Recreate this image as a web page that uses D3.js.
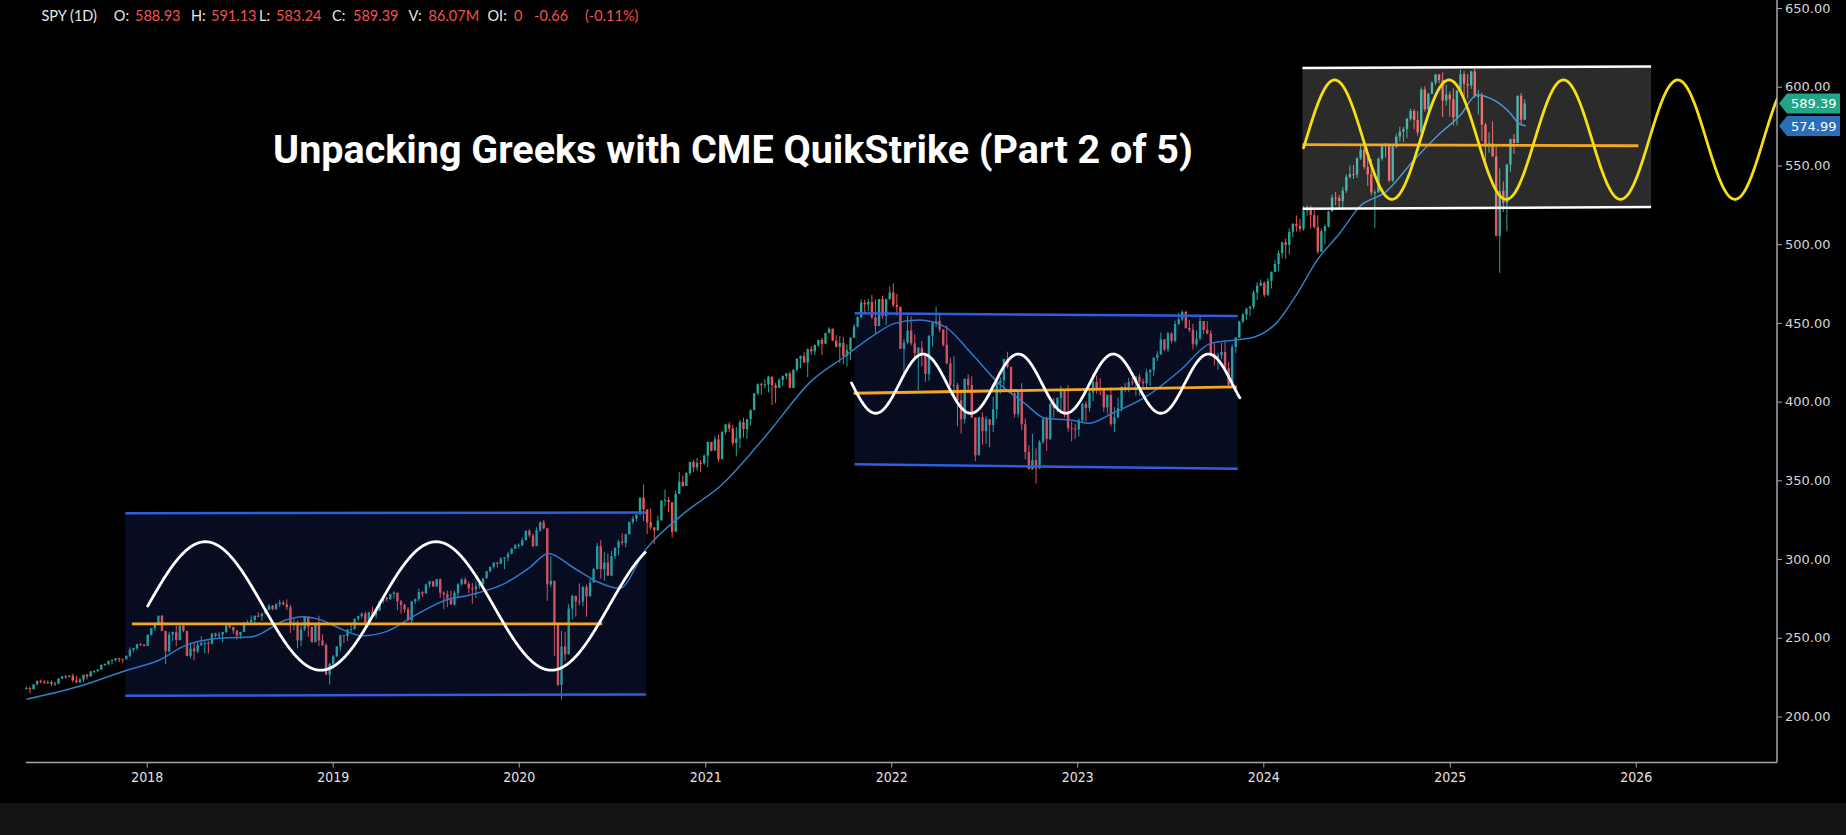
<!DOCTYPE html>
<html>
<head>
<meta charset="utf-8">
<script src="https://cdn.jsdelivr.net/npm/d3@7"></script>
<style>
html, body { margin: 0; padding: 0; background: #000; }
svg { display: block; }
</style>
</head>
<body>
<svg id="chart" width="1846" height="835"></svg>
<script>
// SPY weekly candles, [close, high, low]; open = previous close
var firstOpen = 217.7;
var yearStarts = ["2017-05-12","2018-01-05","2019-01-04","2020-01-03","2021-01-08","2022-01-07","2023-01-06","2024-01-05","2025-01-03"];

var spy2017 = [
[218.0,219.1,217.4],[217.3,219.1,214.7],[220.4,220.6,217.9],[222.6,222.9,219.7],[222.0,223.5,221.1],
[221.3,223.2,220.7],[221.8,223.0,220.7],[220.6,223.0,219.2],[220.9,222.1,219.5],[224.1,224.4,220.6],
[225.5,225.8,223.8],[225.4,226.4,224.0],[225.9,226.3,224.8],[222.9,227.3,221.8],[221.7,225.9,221.2],
[223.5,224.4,221.4],[226.5,226.6,221.9],[225.4,227.0,223.6],[228.7,228.9,226.7],[228.9,229.3,227.6],
[229.8,229.9,228.1],[232.8,233.1,230.2],[233.3,233.7,232.1],[235.3,235.4,232.7],[235.9,236.2,233.4],
[236.9,237.1,235.0],[236.4,237.4,234.5],[236.3,236.8,234.0],[238.6,238.7,236.6],[242.4,243.9,237.7],
[243.4,243.7,240.9],[245.9,246.3,242.2],[245.4,246.8,244.9],[244.9,246.1,244.6]
];
var spy2018 = [
[251.8,252.4,247.0],[256.1,256.3,251.4],[258.2,258.8,254.4],[264.0,264.0,258.2],
[254.3,264.4,254.1],[241.4,254.5,233.4],[252.0,253.8,240.7],[253.6,253.8,247.9],
[248.6,257.8,244.7],[257.7,257.8,248.2],[254.4,259.0,253.4],[238.5,254.4,238.2],[243.2,247.0,237.0],
[241.4,247.0,235.6],[245.3,247.2,240.1],[246.6,251.0,244.7],[246.6,248.5,240.1],
[246.3,248.1,239.9],[252.7,252.8,245.7],[251.2,253.2,250.2],[252.0,253.9,250.1],
[253.6,253.9,247.3],[257.9,258.6,253.0],[256.9,259.1,255.8],[254.6,256.1,252.5],[251.5,254.4,248.9],
[253.7,253.8,249.5],[259.7,260.0,255.7],[259.8,261.2,258.7],[261.4,264.2,259.8],
[264.0,264.1,258.8],[263.7,266.3,263.2],[265.4,265.9,260.7],[267.7,267.9,265.2],[270.3,271.6,267.7],
[268.3,270.8,267.5],[271.4,271.8,267.5],[272.4,274.2,269.5],[271.2,273.6,270.5],
[269.4,274.4,267.7],[258.3,270.9,253.1],[258.6,263.1,254.8],[248.3,261.1,243.3],
[255.3,258.4,244.8],[263.4,264.0,254.2],[257.0,260.3,250.6],[247.2,257.0,247.1],[258.8,259.2,247.9],
[248.3,264.1,244.6],[245.4,252.3,244.8],[226.7,246.4,226.2],[233.4,233.9,220.2]
];
var spy2019 = [
[238.3,239.0,230.3],[244.5,244.7,237.6],[251.6,252.0,241.7],[251.1,251.8,246.6],
[255.2,255.7,247.9],[255.6,258.4,253.4],[262.1,262.1,255.2],[263.7,263.8,260.8],
[265.3,266.1,262.4],[259.7,266.7,257.7],[266.1,266.7,259.7],[264.2,269.8,264.0],[267.2,267.2,262.3],
[273.3,273.3,268.5],[275.3,275.4,271.8],[274.6,276.0,272.9],[277.8,277.9,274.0],
[278.7,279.6,274.9],[273.1,277.3,267.6],[270.9,274.0,265.3],[268.1,271.6,266.0],[261.0,269.4,261.0],
[273.0,273.6,259.5],[274.5,274.9,271.5],[279.0,281.2,273.2],[278.1,279.6,275.9],
[283.9,284.3,280.7],[285.9,286.0,281.8],[282.6,286.3,282.2],[287.2,287.4,282.6],
[278.6,287.7,275.4],[277.6,279.5,268.2],[275.0,280.0,269.5],[271.2,279.7,271.1],[278.4,279.9,270.4],
[284.0,284.8,275.7],[287.0,287.8,283.3],[284.3,288.4,283.8],[281.5,285.7,278.3],
[280.8,284.8,271.7],[282.7,285.8,275.2],[284.3,286.2,281.2],[287.7,288.1,283.2],
[292.3,292.4,288.1],[295.1,295.1,291.5],[297.8,297.8,293.9],[297.0,298.2,294.6],[300.2,301.3,297.2],
[301.0,301.4,293.6],[303.3,304.7,298.6],[306.6,306.8,303.2],[308.7,309.6,306.3]
];
var spy2020 = [
[308.9,310.0,306.7],[312.0,313.7,308.0],[318.0,318.2,311.8],[315.0,318.9,313.7],[308.2,316.1,307.4],
[318.2,320.2,308.9],[323.4,323.9,317.3],[319.5,324.9,319.0],[283.9,319.6,273.5],
[286.2,301.9,282.0],[259.1,277.5,238.3],[220.1,247.8,219.3],[244.5,254.4,210.7],
[239.5,253.8,235.4],[268.5,271.4,249.9],[276.6,277.3,261.7],[273.1,276.8,263.4],
[272.9,284.6,270.6],[282.2,282.9,270.0],[276.3,283.7,263.4],[285.1,287.3,280.8],[293.6,294.3,286.3],
[308.1,310.1,293.6],[293.6,312.1,287.6],[297.8,304.6,286.3],[289.5,303.5,289.3],
[301.9,305.3,289.0],[307.1,307.4,300.1],[311.1,312.3,302.3],[310.3,316.4,308.7],[315.7,316.2,307.5],
[323.6,323.9,316.2],[325.7,327.1,322.1],[328.3,328.4,324.0],[339.0,339.1,328.7],
[331.6,347.3,324.2],[323.4,331.6,315.8],[320.1,332.1,318.5],[318.2,320.4,309.6],
[324.5,327.6,320.8],[337.1,337.3,324.6],[337.6,344.1,333.5],[336.1,339.5,329.7],[317.4,333.4,313.6],
[341.4,343.4,319.8],[349.1,355.3,341.7],[346.4,353.2,345.8],[354.6,355.1,347.0],
[361.7,361.7,353.0],[358.2,362.9,355.5],[361.1,364.3,356.2],[360.9,362.8,355.3],[365.7,366.5,359.9]
];
var spy2021 = [
[374.4,374.6,358.2],[368.9,374.2,368.5],[376.0,378.0,370.0],[363.4,378.9,361.7],
[380.7,381.5,364.3],[385.5,385.8,379.2],[383.0,387.1,380.7],[373.6,385.3,372.0],
[376.7,383.9,365.3],[387.0,388.5,370.3],[382.5,389.9,377.0],[388.9,388.9,376.4],
[394.6,395.0,384.7],[405.3,405.5,397.4],[411.0,411.6,404.0],[410.4,412.0,404.4],[411.0,414.4,408.3],
[415.8,416.4,405.8],[410.4,415.9,397.9],[408.7,411.9,399.2],[413.7,414.9,408.9],
[416.3,416.6,410.1],[417.9,418.2,414.3],[408.7,419.1,408.5],[420.2,420.7,408.5],
[427.2,427.6,419.2],[429.0,429.3,421.1],[424.8,431.3,424.6],[433.3,433.7,415.6],[431.9,435.2,429.6],
[435.9,436.3,429.6],[439.2,439.2,434.7],[436.7,440.4,429.6],[443.5,443.8,437.0],
[446.3,447.2,443.9],[438.7,445.8,438.6],[434.8,442.2,434.4],[437.2,441.6,424.4],
[429.0,441.2,423.7],[432.7,436.4,422.3],[440.5,441.0,426.4],[447.7,449.2,440.5],[453.7,454.1,447.0],
[462.9,465.0,452.7],[461.7,464.6,456.5],[463.3,465.3,457.4],[453.5,467.8,452.3],
[448.0,464.8,443.5],[465.1,465.2,448.2],[454.4,467.2,452.6],[465.0,465.3,448.6],[469.3,473.3,464.8]
];
var spy2022 = [
[461.4,475.2,460.0],[460.1,468.5,454.6],[433.6,460.4,433.4],[437.5,439.6,416.6],
[445.1,454.4,436.3],[437.0,454.2,435.6],[430.7,442.7,428.3],[434.2,434.7,407.3],
[429.6,438.4,422.5],[417.6,430.8,412.6],[441.8,442.2,413.3],[450.0,450.3,435.0],
[451.1,460.3,447.3],[445.8,456.0,444.1],[436.0,444.0,435.0],[424.3,448.2,423.7],[410.4,428.0,409.6],
[410.5,428.8,404.2],[400.9,411.9,384.4],[388.8,407.8,379.7],[414.5,414.6,386.2],
[410.5,417.4,406.9],[389.8,416.0,389.8],[365.9,383.9,362.2],[390.1,390.1,369.0],
[381.2,393.2,372.6],[388.7,390.6,373.1],[385.1,388.9,371.0],[395.1,403.1,380.7],[412.0,413.0,389.0],
[413.5,415.7,405.0],[427.1,427.2,408.1],[422.1,431.7,421.2],[405.3,419.3,405.2],
[392.2,407.0,390.0],[406.6,407.5,390.0],[385.6,411.7,382.1],[368.0,389.3,363.3],[357.2,372.3,357.0],
[362.8,379.5,356.6],[357.6,370.3,348.1],[374.3,375.5,357.3],[389.0,389.5,373.1],
[376.4,390.4,368.8],[398.5,399.4,375.5],[396.0,402.3,390.0],[402.3,402.9,393.3],
[406.9,410.0,393.3],[393.3,404.9,390.0],[383.3,410.5,381.0],[382.9,387.4,374.8],[382.4,386.0,376.4]
];
var spy2023 = [
[388.1,389.3,377.8],[398.5,399.1,386.3],[395.9,400.2,387.3],[405.7,408.2,393.6],
[412.4,418.3,400.3],[408.0,416.5,405.0],[407.3,415.0,404.1],[396.4,404.2,393.6],
[404.2,404.5,392.3],[385.9,409.0,384.3],[390.0,396.5,380.7],[395.8,402.5,389.4],[409.4,409.7,393.7],
[409.2,411.9,405.8],[412.5,415.1,406.0],[412.2,415.7,410.2],[415.9,416.0,403.8],
[412.6,417.6,403.7],[411.6,414.5,408.9],[418.6,420.7,408.8],[420.0,420.8,409.9],
[427.9,428.0,416.2],[429.9,432.0,425.8],[439.5,443.9,429.9],[433.2,438.4,432.0],[443.3,444.3,431.4],
[438.6,444.1,437.1],[449.3,451.4,437.6],[452.2,456.4,448.4],[456.9,458.2,451.2],
[446.8,457.8,446.3],[445.7,451.7,444.2],[436.3,449.3,433.0],[440.0,445.2,435.0],
[451.2,453.7,439.0],[445.5,451.1,442.9],[443.4,451.1,442.6],[430.4,445.4,429.5],[427.5,436.9,422.9],
[429.5,431.0,420.2],[431.5,437.3,427.0],[421.2,438.1,421.1],[410.7,425.0,409.2],
[434.7,436.3,409.2],[440.6,441.0,431.0],[450.8,451.4,440.6],[455.3,456.4,449.7],
[459.1,459.7,451.9],[460.2,460.7,454.3],[469.3,470.7,458.9],[473.7,475.9,464.6],[475.3,477.6,473.3]
];
var spy2024 = [
[467.9,476.4,466.4],[476.7,478.6,467.0],[482.4,482.7,471.9],[487.4,490.0,483.8],
[494.4,496.1,482.9],[501.2,501.7,491.0],[499.5,503.5,490.7],[507.9,510.1,493.6],
[512.9,513.3,504.4],[511.7,518.2,508.0],[509.8,516.0,508.0],[521.2,524.1,508.5],[523.1,524.6,518.0],
[518.4,524.4,509.9],[510.9,523.2,509.9],[495.2,518.4,493.9],[508.3,509.9,497.6],
[511.3,512.6,499.9],[520.8,521.2,510.6],[529.5,531.5,520.8],[529.4,533.1,524.7],[527.4,531.3,522.6],
[534.0,536.2,522.1],[542.8,544.3,532.6],[544.5,550.1,541.6],[544.2,550.3,541.5],
[554.6,555.1,542.0],[560.0,563.7,553.5],[549.0,565.2,547.5],[544.4,555.5,536.9],
[532.9,554.1,531.0],[533.0,534.6,510.3],[554.3,555.0,532.7],[562.1,563.2,553.0],[563.7,564.2,555.0],
[540.4,563.0,539.4],[562.0,562.4,539.4],[568.3,570.3,561.1],[571.5,574.7,565.3],
[573.0,574.4,565.0],[579.6,580.3,567.3],[584.6,586.1,578.5],[579.0,585.7,573.0],
[571.0,584.6,568.9],[598.2,599.6,570.2],[585.8,600.2,584.2],[595.5,596.1,580.9],[602.6,603.4,597.0],
[607.8,608.0,601.0],[604.2,607.8,602.1],[591.2,609.1,580.9],[595.0,601.3,588.0]
];
var spy2025 = [
[592.0,596.9,580.9],[580.5,599.0,575.4],[597.6,598.0,575.4],[608.0,610.8,598.8],[601.8,609.9,594.1],
[600.8,608.1,592.5],[609.7,610.1,598.6],[594.0,613.2,593.0],[594.2,598.0,582.4],
[575.9,596.3,565.6],[562.8,577.0,549.7],[564.0,571.0,558.1],[555.7,578.0,555.7],
[505.3,562.9,505.0],[533.9,548.1,481.8],[526.4,539.7,520.3],[550.6,551.0,508.1],
[566.8,567.0,546.0],[564.3,570.0,557.3],[594.2,594.5,575.6],[579.1,596.1,575.6],[589.4,592.0,579.3]
];

// moving average (blue line)
var maDates = ["2017-05-10","2017-08-20","2017-11-20","2018-01-26","2018-03-17","2018-05-22","2018-07-27","2018-10-01","2018-11-03","2018-12-06",
  "2019-01-08","2019-02-28","2019-04-16","2019-06-13","2019-08-11","2019-09-27","2019-12-05","2020-01-23","2020-02-28","2020-04-16",
  "2020-06-03","2020-07-17","2020-09-06","2020-11-20","2021-02-02","2021-05-04","2021-07-27","2021-10-01","2021-11-28","2022-01-08",
  "2022-02-25","2022-04-16","2022-06-07","2022-07-31","2022-09-20","2022-10-30","2022-12-20","2023-01-23","2023-03-11","2023-05-16",
  "2023-07-23","2023-09-20","2023-11-07","2023-12-16","2024-01-26","2024-03-08","2024-04-16","2024-05-30","2024-07-08","2024-08-29",
  "2024-10-23","2024-12-13","2025-01-22","2025-02-23","2025-03-28","2025-04-30","2025-05-15","2025-05-30"];
var maValues = [210.9,219,229.1,235.9,245.0,249.7,250.7,261.3,263.4,261.7,
  257.0,251.3,253.9,264.5,274,277.2,284.6,294.8,303.6,294.8,
  285.6,281.4,306,329,347,379.9,412.7,428.5,442.3,449.7,
  451.8,447.6,430.7,411.6,398.9,389.4,388.3,386.2,392.6,403.1,
  420.1,437.0,439.1,441.2,449.7,468.8,490,506.9,523.8,533.4,
  553.5,570.4,582,594.8,591.6,583,577,574.99];

// drawn range boxes: [start, end], prices at left and right end
var boxStart = ["2017-11-20","2021-10-21","2024-03-18"];
var boxEnd = ["2020-09-07","2023-11-12","2026-01-31"];
var boxTop = [[329.1,329.5],[456.1,454.4],[611.9,612.9]];
var boxBottom = [[213.2,214.0],[360.2,357.3],[522.5,523.6]];
var midStart = ["2017-12-03","2021-10-19","2024-03-18"];
var midEnd = ["2020-06-13","2023-11-10","2026-01-06"];
var midPrice = [[258.8,258.8],[405.3,409.4],[563.2,562.5]];

// sine-wave drawings
var sineStart = ["2018-01-03","2021-10-15","2024-03-20"];
var sineEnd = ["2020-09-05","2023-11-16","2026-10-10"];
var sineZero = ["2018-01-03","2022-01-17","2024-03-25"];
var sinePeriod = [452.6,186.6,224.4];
var sineCenter = [270.2,411.4,566.4];
var sineAmp = [40.8,18.8,37.9];

var yTicks = [200,250,300,350,400,450,500,550,600,650];
var xTicks = [2018,2019,2020,2021,2022,2023,2024,2025,2026];
var lastClose = 589.39, lastMa = 574.99;
var headerText = ["SPY (1D)","O:","588.93","H:","591.13","L:","583.24","C:","589.39","V:","86.07M","OI:","0","-0.66","(-0.11%)"];
var title = "Unpacking Greeks with CME QuikStrike (Part 2 of 5)";

// ---- drawing ----
var svg = d3.select("#chart");
var parse = d3.timeParse("%Y-%m-%d");
var plotLeft = 26, plotRight = 1777, plotBottom = 762.5;

var x = d3.scaleTime().domain([new Date(2018,0,1), new Date(2026,0,1)]).range([146.7, 1635.8]);
var y = d3.scaleLinear().domain([200, 650]).range([716.5, 8]);

svg.append("rect").attr("width", 1846).attr("height", 835).attr("fill", "#000");
svg.append("rect").attr("x", 0).attr("y", 803).attr("width", 1846).attr("height", 32).attr("fill", "#131316");

svg.append("clipPath").attr("id", "plotclip")
  .append("rect").attr("x", 0).attr("y", 0).attr("width", plotRight).attr("height", plotBottom);
var plot = svg.append("g").attr("clip-path", "url(#plotclip)");

var candles = [];
var prev = firstOpen;
[spy2017,spy2018,spy2019,spy2020,spy2021,spy2022,spy2023,spy2024,spy2025].forEach(function(weeks, k) {
  var fri = parse(yearStarts[k]);
  weeks.forEach(function(w, i) {
    candles.push({
      date: d3.timeDay.offset(fri, 7*i - 2),
      o: prev, c: w[0],
      h: Math.max(w[1], prev, w[0]),
      l: Math.min(w[2], prev, w[0])
    });
    prev = w[0];
  });
});

var up = "#26a69a", down = "#ef5350";
var cg = plot.append("g");
cg.selectAll("line").data(candles).enter().append("line")
  .attr("x1", function(d) { return x(d.date); })
  .attr("x2", function(d) { return x(d.date); })
  .attr("y1", function(d) { return y(d.h); })
  .attr("y2", function(d) { return y(d.l); })
  .attr("stroke", function(d) { return d.c >= d.o ? up : down; })
  .attr("stroke-width", 1);
cg.selectAll("rect").data(candles).enter().append("rect")
  .attr("x", function(d) { return x(d.date) - 1.2; })
  .attr("width", 2.4)
  .attr("y", function(d) { return y(Math.max(d.o, d.c)); })
  .attr("height", function(d) { return Math.max(1, Math.abs(y(d.o) - y(d.c))); })
  .attr("fill", function(d) { return d.c >= d.o ? up : down; });

var ma = maDates.map(function(d, i) { return [parse(d), maValues[i]]; });
plot.append("path").datum(ma)
  .attr("d", d3.line().curve(d3.curveMonotoneX)
    .x(function(d) { return x(d[0]); }).y(function(d) { return y(d[1]); }))
  .attr("fill", "none").attr("stroke", "#2f7fc4").attr("stroke-width", 1.5);

var boxFill = ["rgba(45,80,215,0.15)","rgba(45,80,215,0.15)","rgba(255,255,255,0.17)"];
var boxLine = ["#2f5fe0","#2f5fe0","#ffffff"];
var sineColor = ["#ffffff","#ffffff","#f5df12"];

boxStart.forEach(function(s, i) {
  var x0 = x(parse(s)), x1 = x(parse(boxEnd[i]));
  plot.append("path")
    .attr("d", "M" + x0 + "," + y(boxTop[i][0]) + "L" + x1 + "," + y(boxTop[i][1]) +
      "L" + x1 + "," + y(boxBottom[i][1]) + "L" + x0 + "," + y(boxBottom[i][0]) + "Z")
    .attr("fill", boxFill[i]);
  [boxTop[i], boxBottom[i]].forEach(function(p) {
    plot.append("line").attr("x1", x0).attr("x2", x1).attr("y1", y(p[0])).attr("y2", y(p[1]))
      .attr("stroke", boxLine[i]).attr("stroke-width", 2.5);
  });
  plot.append("line")
    .attr("x1", x(parse(midStart[i]))).attr("x2", x(parse(midEnd[i])))
    .attr("y1", y(midPrice[i][0])).attr("y2", y(midPrice[i][1]))
    .attr("stroke", "#f5a623").attr("stroke-width", 2.8);
});

sineStart.forEach(function(s, i) {
  var t0 = parse(sineZero[i]);
  var days = d3.timeDay.range(parse(s), d3.timeDay.offset(parse(sineEnd[i]), 1));
  var pts = days.map(function(d) {
    var ph = (d - t0) / 864e5 / sinePeriod[i];
    return [d, sineCenter[i] + sineAmp[i] * Math.sin(2 * Math.PI * ph)];
  });
  plot.append("path").datum(pts)
    .attr("d", d3.line().x(function(d) { return x(d[0]); }).y(function(d) { return y(d[1]); }))
    .attr("fill", "none").attr("stroke", sineColor[i]).attr("stroke-width", 2.8)
    .attr("stroke-linecap", "round");
});

svg.append("text").attr("x", 733).attr("y", 163)
  .attr("text-anchor", "middle")
  .attr("font-family", "Roboto, 'Open Sans', sans-serif").attr("font-weight", 700)
  .attr("font-size", 39.5).attr("fill", "#fff")
  .text(title);

// axes
var axisCol = "#a3a6ad";
svg.append("line").attr("x1", plotRight).attr("x2", plotRight).attr("y1", 0).attr("y2", plotBottom)
  .attr("stroke", axisCol).attr("stroke-width", 1.5);
svg.append("line").attr("x1", plotLeft).attr("x2", plotRight).attr("y1", plotBottom).attr("y2", plotBottom)
  .attr("stroke", axisCol).attr("stroke-width", 1.5);

var ya = svg.append("g").attr("transform", "translate(" + plotRight + ",0)")
  .call(d3.axisRight(y).tickValues(yTicks).tickFormat(d3.format(".2f")).tickSize(5).tickPadding(3));
ya.select(".domain").remove();
ya.selectAll("line").attr("stroke", axisCol);
ya.selectAll("text").attr("fill", "#d6d6d6").attr("font-size", 13).attr("font-family", "'DejaVu Sans', sans-serif");

var xa = svg.append("g").attr("transform", "translate(0," + plotBottom + ")")
  .call(d3.axisBottom(x).tickValues(xTicks.map(function(v) { return new Date(v, 0, 1); }))
    .tickFormat(d3.timeFormat("%Y")).tickSize(5).tickPadding(4.5));
xa.select(".domain").remove();
xa.selectAll("line").attr("stroke", axisCol);
xa.selectAll("text").attr("fill", "#e2e2e2").attr("font-size", 14)
  .attr("font-family", "'DejaVu Sans Condensed', 'DejaVu Sans', sans-serif")
  .style("font-stretch", "condensed");

// price tags on the right axis
[[lastClose, "#22a487"], [lastMa, "#2a6db8"]].forEach(function(t) {
  var cy = y(t[0]);
  svg.append("path")
    .attr("d", "M1779," + cy + "L1787," + (cy - 10) + "L1840," + (cy - 10) + "L1840," + (cy + 10) + "L1787," + (cy + 10) + "Z")
    .attr("fill", t[1]);
  svg.append("text").attr("x", 1791).attr("y", cy).attr("dy", "0.36em")
    .attr("font-family", "'DejaVu Sans', sans-serif").attr("font-size", 13).attr("fill", "#fff")
    .text(d3.format(".2f")(t[0]));
});

// header line
var headerX = [41.5,113.8,135,191,211,259,276,332,353,408.5,428.6,487.5,514,534,585];
var isValue = [false,false,true,false,true,false,true,false,true,false,true,false,true,true,true];
svg.selectAll("text.hdr").data(headerText).enter().append("text").attr("class", "hdr")
  .attr("x", function(d, i) { return headerX[i]; })
  .attr("y", 20.5)
  .attr("font-family", "Lato, 'Open Sans', sans-serif").attr("font-size", 14.5)
  .attr("fill", function(d, i) { return isValue[i] ? "#ef5350" : "#e6e6e6"; })
  .text(function(d) { return d; });
</script>
</body>
</html>
